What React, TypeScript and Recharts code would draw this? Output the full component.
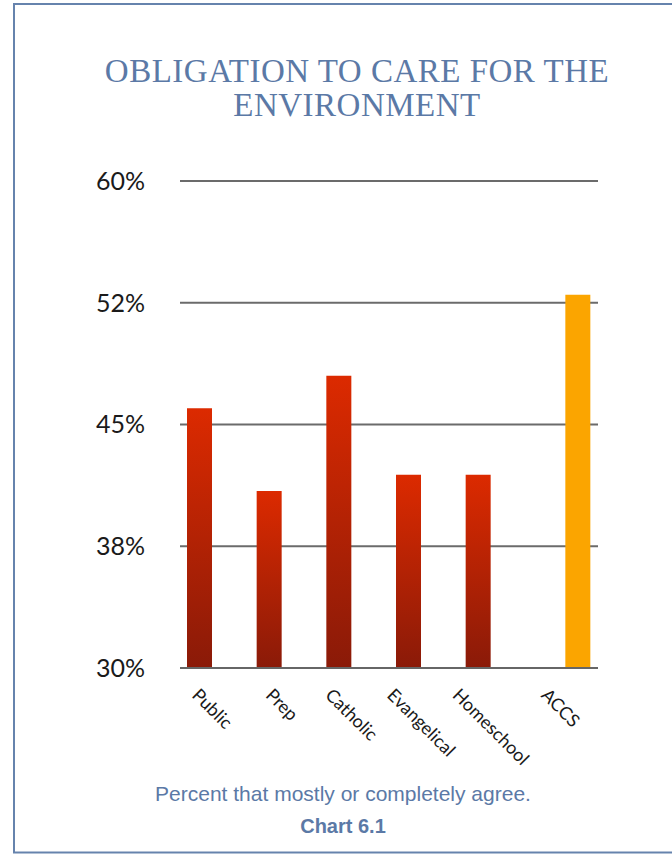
import { BarChart, Bar, XAxis, YAxis, CartesianGrid } from "recharts";

const categories = ["Public", "Prep", "Catholic", "Evangelical", "Homeschool", "ACCS"];
const schoolValues = [46, 40.9, 48, 41.9, 41.9, null];
const accsValues = [null, null, null, null, null, 53];
const yTicks = [30, 37.5, 45, 52.5, 60];
const yTickLabels = ["30%", "38%", "45%", "52%", "60%"];

const data = categories.map((name, i) => ({
  name,
  school: schoolValues[i],
  accs: accsValues[i],
}));

const LABEL_FONT = "Lato, 'Open Sans', sans-serif";
const BLUE = "#5b79a6";

let ctx: CanvasRenderingContext2D | null = null;
function textWidth(s: string, font: string) {
  if (!ctx) ctx = document.createElement("canvas").getContext("2d");
  if (!ctx) return s.length * 9;
  ctx.font = font;
  return ctx.measureText(s).width;
}

// labels turned 45deg around their own centre, tops lined up under the axis
function XTick(props: any) {
  const { x, y, payload } = props;
  const w = textWidth(payload.value, `18px Lato`);
  const half = ((w + 12) * Math.SQRT1_2) / 2;
  const cx = x - 2;
  const cy = y + 11 + half;
  return (
    <text
      x={cx}
      y={cy}
      textAnchor="middle"
      dominantBaseline="central"
      transform={`rotate(45 ${cx} ${cy})`}
      fontSize={18}
      fontFamily={LABEL_FONT}
      fill="#1a1a1a"
    >
      {payload.value}
    </text>
  );
}

export default function App() {
  return (
    <div
      style={{
        position: "absolute",
        left: 0,
        top: 0,
        width: 672,
        height: 854,
        overflow: "hidden",
        background: "#fff",
      }}
    >
      <BarChart
        width={672}
        height={854}
        data={data}
        margin={{ top: 181, right: 74, left: 10, bottom: 76 }}
        barSize={25}
        barGap={5}
      >
        <defs>
          <linearGradient id="redGrad" x1="0" y1="0" x2="0" y2="1">
            <stop offset="0%" stopColor="#dc2a00" />
            <stop offset="100%" stopColor="#8a1a08" />
          </linearGradient>
        </defs>
        <CartesianGrid vertical={false} stroke="#6b6b6b" strokeWidth={2} />
        <XAxis
          dataKey="name"
          interval={0}
          tickLine={false}
          axisLine={{ stroke: "#666", strokeWidth: 2 }}
          height={110}
          tick={<XTick />}
        />
        <YAxis
          domain={[30, 60]}
          ticks={yTicks}
          tickFormatter={(v: number) => yTickLabels[yTicks.indexOf(v)]}
          axisLine={false}
          tickLine={false}
          width={170}
          tickMargin={29}
          tick={{ fill: "#1a1a1a", fontSize: 25, fontFamily: LABEL_FONT }}
        />
        <Bar dataKey="school" fill="url(#redGrad)" isAnimationActive={false} />
        <Bar dataKey="accs" fill="#fba500" isAnimationActive={false} />
      </BarChart>

      <svg
        width={672}
        height={854}
        style={{ position: "absolute", left: 0, top: 0, pointerEvents: "none" }}
      >
        <rect x={14} y={4} width={700} height={848.5} fill="none" stroke="#6683ad" strokeWidth={2} />
        <text x={357} y={82} textAnchor="middle" fontSize={33} letterSpacing={0.5} fontFamily="'Liberation Serif', serif" fill={BLUE}>
          OBLIGATION TO CARE FOR THE
        </text>
        <text x={357} y={116} textAnchor="middle" fontSize={33} letterSpacing={0.5} fontFamily="'Liberation Serif', serif" fill={BLUE}>
          ENVIRONMENT
        </text>
        <text x={343} y={801} textAnchor="middle" fontSize={21} fontFamily="'Liberation Sans', Arial, sans-serif" fill={BLUE}>
          Percent that mostly or completely agree.
        </text>
        <text x={343} y={833} textAnchor="middle" fontSize={20} fontWeight="bold" fontFamily="'Liberation Sans', Arial, sans-serif" fill={BLUE}>
          Chart 6.1
        </text>
      </svg>
    </div>
  );
}
